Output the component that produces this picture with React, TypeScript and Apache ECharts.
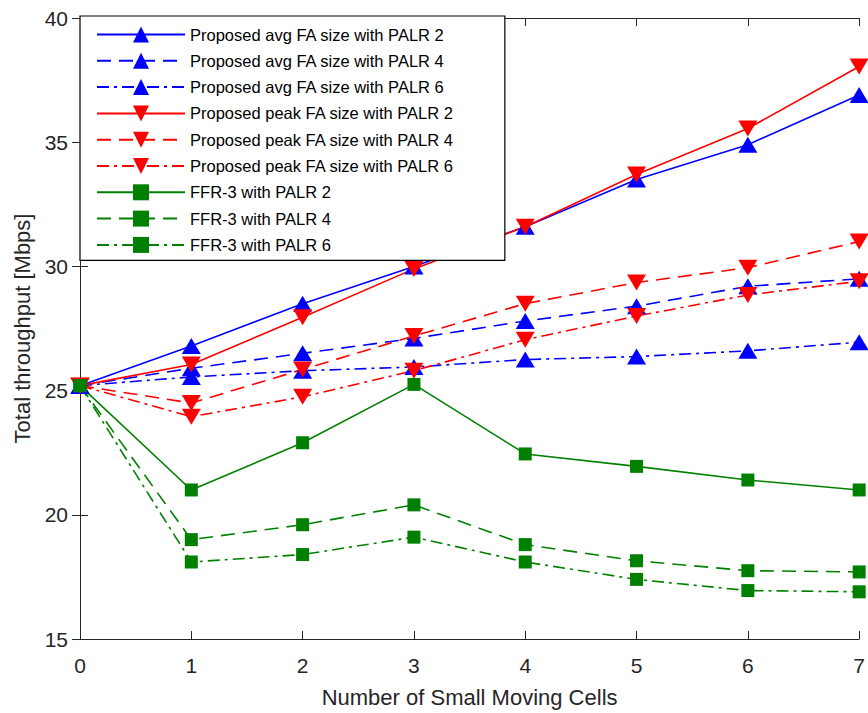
import React, { useEffect, useRef } from "react";
import * as echarts from "echarts";

const xValues = [0, 1, 2, 3, 4, 5, 6, 7];
const avgPalr2 = [25.2, 26.8, 28.5, 30.0, 31.6, 33.5, 34.9, 36.9];
const avgPalr4 = [25.2, 25.9, 26.5, 27.1, 27.8, 28.4, 29.2, 29.5];
const avgPalr6 = [25.2, 25.55, 25.8, 25.95, 26.25, 26.37, 26.6, 26.95];
const peakPalr2 = [25.2, 26.05, 27.95, 29.9, 31.6, 33.7, 35.55, 38.05];
const peakPalr4 = [25.2, 24.5, 25.85, 27.2, 28.5, 29.35, 29.95, 31.0];
const peakPalr6 = [25.2, 23.95, 24.75, 25.8, 27.05, 28.0, 28.85, 29.4];
const ffrPalr2 = [25.2, 21.0, 22.9, 25.25, 22.45, 21.95, 21.4, 21.0];
const ffrPalr4 = [25.2, 19.0, 19.6, 20.4, 18.8, 18.15, 17.75, 17.7];
const ffrPalr6 = [25.2, 18.1, 18.4, 19.1, 18.1, 17.4, 16.95, 16.9];

const seriesNames = [
  "Proposed avg FA size with PALR 2",
  "Proposed avg FA size with PALR 4",
  "Proposed avg FA size with PALR 6",
  "Proposed peak FA size with PALR 2",
  "Proposed peak FA size with PALR 4",
  "Proposed peak FA size with PALR 6",
  "FFR-3 with PALR 2",
  "FFR-3 with PALR 4",
  "FFR-3 with PALR 6",
];

const FONT = "'Liberation Sans', Arial, Helvetica, sans-serif";
const AXIS_COLOR = "#262626";

const DASHED = [14, 8];
const DASHDOT = [12, 5, 3, 5];

type Kind = "up" | "down" | "square";

function makeSeries(
  name: string,
  values: number[],
  color: string,
  dash: "solid" | number[],
  kind: Kind
) {
  const symbol = kind === "square" ? "rect" : "triangle";
  const symbolSize: number | number[] = kind === "square" ? 13 : [19, 16];
  return {
    name,
    type: "line",
    data: xValues.map((x, i) => [x, values[i]]),
    symbol,
    symbolSize,
    symbolRotate: kind === "down" ? 180 : 0,
    showSymbol: true,
    lineStyle: { color, width: 1.6, type: dash },
    itemStyle: { color, borderWidth: 0 },
    emphasis: { disabled: true },
    clip: false,
  };
}

export default function App() {
  const ref = useRef<HTMLDivElement>(null);
  useEffect(() => {
    document.body.style.margin = "0";
    if (!ref.current) return;
    const chart = echarts.init(ref.current, undefined, { renderer: "svg" });
    const blue = "#0000ff";
    const red = "#ff0000";
    const green = "#008000";
    const series = [
      makeSeries(seriesNames[0], avgPalr2, blue, "solid", "up"),
      makeSeries(seriesNames[1], avgPalr4, blue, DASHED, "up"),
      makeSeries(seriesNames[2], avgPalr6, blue, DASHDOT, "up"),
      makeSeries(seriesNames[3], peakPalr2, red, "solid", "down"),
      makeSeries(seriesNames[4], peakPalr4, red, DASHED, "down"),
      makeSeries(seriesNames[5], peakPalr6, red, DASHDOT, "down"),
      makeSeries(seriesNames[6], ffrPalr2, green, "solid", "square"),
      makeSeries(seriesNames[7], ffrPalr4, green, DASHED, "square"),
      makeSeries(seriesNames[8], ffrPalr6, green, DASHDOT, "square"),
    ];
    const axisLine = { show: true, lineStyle: { color: AXIS_COLOR, width: 1 } };
    const axisTick = { show: true, inside: true, length: 8, lineStyle: { color: AXIS_COLOR, width: 1 } };
    chart.setOption({
      animation: false,
      backgroundColor: "#ffffff",
      textStyle: { fontFamily: FONT },
      grid: { left: 80, right: 3, top: 18, bottom: 73, containLabel: false },
      legend: {
        show: true,
        orient: "vertical",
        left: 80,
        top: 16,
        data: seriesNames,
        itemWidth: 88,
        itemHeight: 20,
        itemGap: 9.3,
        padding: [10, 51, 7, 16],
        backgroundColor: "#ffffff",
        borderColor: "#000000",
        borderWidth: 1.2,
        borderRadius: 0,
        selectedMode: false,
        textStyle: { fontFamily: FONT, fontSize: 16.5, color: "#000000" },
        z: 10,
      },
      xAxis: [
        {
          type: "value",
          min: 0,
          max: 7,
          interval: 1,
          position: "bottom",
          name: "Number of Small Moving Cells",
          nameLocation: "middle",
          nameGap: 47,
          nameTextStyle: { fontFamily: FONT, fontSize: 22, color: AXIS_COLOR },
          axisLine,
          axisTick,
          axisLabel: { fontFamily: FONT, fontSize: 21, color: AXIS_COLOR, margin: 16 },
          splitLine: { show: false },
        },
        {
          type: "value",
          min: 0,
          max: 7,
          interval: 1,
          position: "top",
          axisLine,
          axisTick,
          axisLabel: { show: false },
          splitLine: { show: false },
        },
      ],
      yAxis: [
        {
          type: "value",
          min: 15,
          max: 40,
          interval: 5,
          position: "left",
          name: "Total throughput [Mbps]",
          nameLocation: "middle",
          nameGap: 47,
          nameTextStyle: { fontFamily: FONT, fontSize: 22, color: AXIS_COLOR },
          axisLine,
          axisTick,
          axisLabel: { fontFamily: FONT, fontSize: 21, color: AXIS_COLOR, margin: 12 },
          splitLine: { show: false },
        },
        {
          type: "value",
          min: 15,
          max: 40,
          interval: 5,
          position: "right",
          axisLine,
          axisTick,
          axisLabel: { show: false },
          splitLine: { show: false },
        },
      ],
      series,
    });
    return () => chart.dispose();
  }, []);
  return <div ref={ref} style={{ width: 868, height: 713 }} />;
}
